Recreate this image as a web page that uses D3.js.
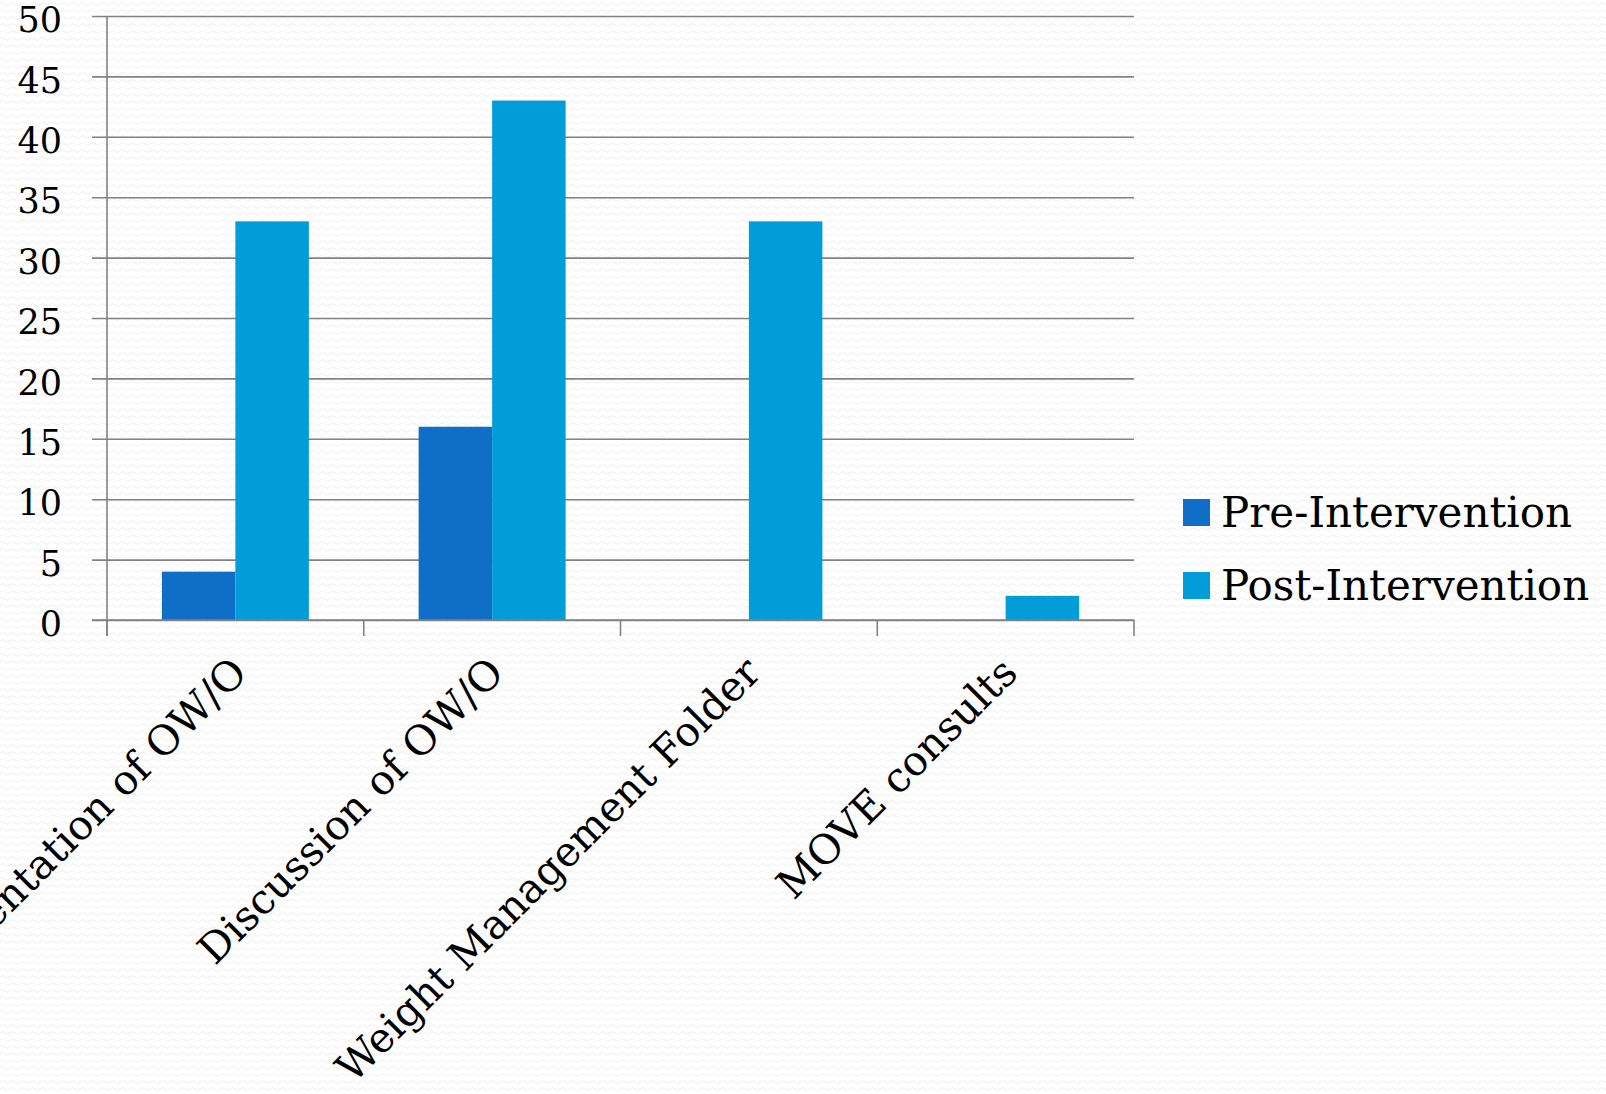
<!DOCTYPE html>
<html>
<head>
<meta charset="utf-8">
<script src="https://cdn.jsdelivr.net/npm/d3@7"></script>
<style>
  html, body { margin: 0; padding: 0; background: #fff; overflow: hidden; }
  svg { display: block; }
</style>
</head>
<body>
<svg width="1606" height="1094"></svg>
<script>
// Chart data
let categories = ['Documentation of OW/O', 'Discussion of OW/O', 'Weight Management Folder', 'MOVE consults'];
let seriesNames = ['Pre-Intervention', 'Post-Intervention'];
let preValues = [4, 16, 0, 0];
let postValues = [33, 43, 33, 2];
let yTicks = [0, 5, 10, 15, 20, 25, 30, 35, 40, 45, 50];

let colors = ['#0f6fc6', '#009dd9'];
let font = '"DejaVu Serif", "Liberation Serif", serif';

let svg = d3.select('svg');
let width = +svg.attr('width');
let height = +svg.attr('height');

// plot box (y axis at 107, zero line at 620, top gridline at 16)
let plotLeft = 107, plotRight = 1134, plotTop = 16, plotBottom = 620;

// faint wavy paper texture in the background
let defs = svg.append('defs');
let pat = defs.append('pattern')
  .attr('id', 'paper')
  .attr('patternUnits', 'userSpaceOnUse')
  .attr('width', 10)
  .attr('height', 7);
pat.append('rect').attr('width', 10).attr('height', 7).attr('fill', '#ffffff');
pat.append('path')
  .attr('d', 'M0 4 Q2.5 1 5 4 T10 4')
  .attr('fill', 'none')
  .attr('stroke', '#eeeeee')
  .attr('stroke-width', 1);

svg.append('rect')
  .attr('width', width)
  .attr('height', height)
  .attr('fill', 'url(#paper)');

// scales
let x0 = d3.scaleBand()
  .domain(categories)
  .range([plotLeft, plotRight])
  .paddingInner(0.4275)
  .paddingOuter(0.4275 / 2);

let x1 = d3.scaleBand()
  .domain(seriesNames)
  .range([0, x0.bandwidth()]);

let y = d3.scaleLinear()
  .domain([0, 50])
  .range([plotBottom, plotTop]);

// y axis + gridlines
let yAxis = svg.append('g')
  .attr('transform', `translate(${plotLeft},0)`)
  .call(d3.axisLeft(y).tickValues(yTicks).tickSize(-(plotRight - plotLeft)).tickPadding(45));

yAxis.select('.domain').remove();
yAxis.selectAll('.tick line')
  .attr('x1', -15)
  .attr('stroke', '#828282')
  .attr('stroke-width', 1.6);
yAxis.selectAll('.tick text')
  .attr('dy', '0.45em')
  .style('font-family', font)
  .style('font-size', '35px')
  .attr('fill', '#000');

// bars
let rows = categories.map((c, i) => ({ cat: c, vals: [preValues[i], postValues[i]] }));

let groups = svg.append('g')
  .selectAll('g')
  .data(rows)
  .enter().append('g')
  .attr('transform', d => `translate(${x0(d.cat)},0)`);

groups.selectAll('rect')
  .data(d => d.vals.map((v, j) => ({ name: seriesNames[j], value: v, j: j })))
  .enter().append('rect')
  .attr('x', d => x1(d.name))
  .attr('width', x1.bandwidth())
  .attr('y', d => y(d.value))
  .attr('height', d => y(0) - y(d.value))
  .attr('fill', d => colors[d.j]);

// category axis line and boundary ticks
let step = x0.step();
let bounds = d3.range(categories.length + 1).map(i => plotLeft + i * step);

svg.append('line')
  .attr('x1', plotLeft - 15).attr('x2', plotRight)
  .attr('y1', y(0)).attr('y2', y(0))
  .attr('stroke', '#828282')
  .attr('stroke-width', 1.6);

svg.append('line')
  .attr('x1', plotLeft).attr('x2', plotLeft)
  .attr('y1', plotTop).attr('y2', y(0) + 16)
  .attr('stroke', '#828282')
  .attr('stroke-width', 1.6);

svg.selectAll('.xtick')
  .data(bounds)
  .enter().append('line')
  .attr('class', 'xtick')
  .attr('x1', d => d).attr('x2', d => d)
  .attr('y1', y(0)).attr('y2', y(0) + 16)
  .attr('stroke', '#828282')
  .attr('stroke-width', 1.6);

// rotated category labels
svg.selectAll('.xlabel')
  .data(categories)
  .enter().append('text')
  .attr('class', 'xlabel')
  .attr('transform', d => `translate(${x0(d) + x0.bandwidth() / 2 + 14},675) rotate(-45)`)
  .attr('text-anchor', 'end')
  .style('font-family', font)
  .style('font-size', '41px')
  .attr('fill', '#000')
  .text(d => d);

// legend
let legend = svg.append('g')
  .selectAll('g')
  .data(seriesNames)
  .enter().append('g')
  .attr('transform', (d, i) => `translate(1183,${499 + i * 73})`);

legend.append('rect')
  .attr('width', 27)
  .attr('height', 27)
  .attr('fill', (d, i) => colors[i]);

legend.append('text')
  .attr('x', 38)
  .attr('y', 28)
  .style('font-family', font)
  .style('font-size', '42px')
  .attr('fill', '#000')
  .text(d => d);
</script>
</body>
</html>
